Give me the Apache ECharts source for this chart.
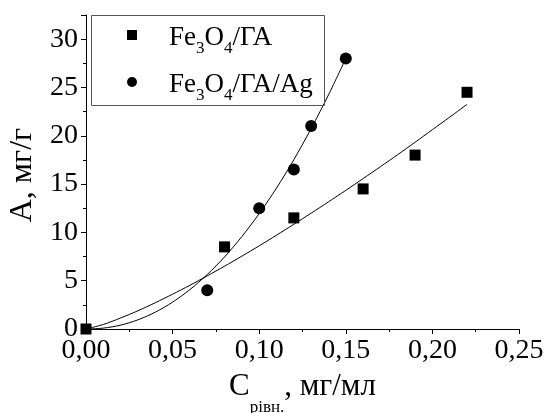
<!DOCTYPE html>
<html><head><meta charset="utf-8">
<script src="https://cdn.jsdelivr.net/npm/echarts@6/dist/echarts.min.js"></script>
<style>html,body{margin:0;padding:0;background:#fff}#c{width:549px;height:413px}</style>
</head><body><div id="c"></div>
<script>
const seriesNames = ['Fe3O4/ГА', 'Fe3O4/ГА/Ag'];
const squareX = [0, 0.08, 0.12, 0.16, 0.19, 0.22];
const squareY = [0, 8.5, 11.5, 14.5, 18.0, 24.5];
const circleX = [0.07, 0.10, 0.12, 0.13, 0.15];
const circleY = [4.0, 12.5, 16.5, 21.0, 28.0];
const fitX1 = [0, 0.01, 0.02, 0.03, 0.04, 0.05, 0.06, 0.07, 0.08, 0.09, 0.10, 0.11, 0.12, 0.13, 0.14, 0.15, 0.16, 0.17, 0.18, 0.19, 0.20, 0.21, 0.22];
const fitY1 = [0, 0.47, 1.14, 1.89, 2.72, 3.60, 4.53, 5.50, 6.50, 7.54, 8.61, 9.71, 10.84, 11.99, 13.16, 14.35, 15.57, 16.80, 18.05, 19.33, 20.63, 21.93, 23.25];
const fitX2 = [0, 0.01, 0.02, 0.03, 0.04, 0.05, 0.06, 0.07, 0.08, 0.09, 0.10, 0.11, 0.12, 0.13, 0.14, 0.15];
const fitY2 = [0, 0.09, 0.40, 0.95, 1.74, 2.78, 4.08, 5.64, 7.46, 9.57, 11.94, 14.59, 17.52, 20.75, 24.23, 28.0];
const xTickValues = [0, 0.05, 0.10, 0.15, 0.20, 0.25];
const xTickLabels = ['0,00', '0,05', '0,10', '0,15', '0,20', '0,25'];
const yTickValues = [0, 5, 10, 15, 20, 25, 30];
const yTickLabels = ['0', '5', '10', '15', '20', '25', '30'];

const FF = '"Liberation Serif", "Times New Roman", serif';
const zip = (a, b) => a.map((v, i) => [v, b[i]]);
const lookup = (vals, labels) => v => {
  const i = vals.findIndex(t => Math.abs(t - v) < 1e-9);
  return i >= 0 ? labels[i] : '';
};
const subFmt = name => name.split(/(\d)/).filter(Boolean)
  .map(p => /\d/.test(p) ? '{s|' + p + '}' : '{n|' + p + '}').join('');

const legendCommon = {
  orient: 'vertical', left: 127, padding: 0,
  itemWidth: 64, itemHeight: 10, itemGap: 0,
  itemStyle: {opacity: 1},
  formatter: subFmt,
  textStyle: {
    fontFamily: FF, fontSize: 27, color: '#000',
    rich: {
      n: {fontFamily: FF, fontSize: 27, color: '#000', lineHeight: 52, height: 46, verticalAlign: 'bottom'},
      s: {fontFamily: FF, fontSize: 17, color: '#000', lineHeight: 11, padding: [31, 0, 0, 0], verticalAlign: 'top'}
    }
  }
};

const chart = echarts.init(document.getElementById('c'), null, {renderer: 'canvas'});
chart.setOption({
  animation: false,
  backgroundColor: '#fff',
  grid: {left: 86, right: 30, top: 15, bottom: 84, containLabel: false, outerBoundsMode: 'none'},
  legend: [
    Object.assign({}, legendCommon, {top: 9, data: [{name: seriesNames[0], icon: 'path://M0,0L10,0L10,10L0,10Z'}]}),
    Object.assign({}, legendCommon, {top: 56, data: [{name: seriesNames[1], icon: 'circle'}]})
  ],
  graphic: [{
    type: 'rect', silent: true, z: 10,
    shape: {x: 91.5, y: 15.5, width: 233, height: 90},
    style: {fill: 'none', stroke: '#555', lineWidth: 1}
  }],
  xAxis: {
    type: 'value', min: 0, max: 0.25, interval: 0.05,
    splitLine: {show: false},
    axisLine: {lineStyle: {color: '#000', width: 1}},
    axisTick: {inside: false, length: 5, lineStyle: {color: '#000'}},
    minorTick: {show: true, splitNumber: 2, length: 3, lineStyle: {color: '#000'}},
    axisLabel: {fontFamily: FF, fontSize: 28, color: '#000', lineHeight: 30, margin: 7,
      formatter: lookup(xTickValues, xTickLabels)},
    name: '{n|С}{s|рівн.}{n|, мг/мл}',
    nameLocation: 'middle', nameGap: 35,
    nameTextStyle: {
      fontFamily: FF, fontSize: 31, color: '#000',
      rich: {
        n: {fontFamily: FF, fontSize: 31, color: '#000', lineHeight: 34, verticalAlign: 'top'},
        s: {fontFamily: FF, fontSize: 17, color: '#000', lineHeight: 11, padding: [28, 0, 0, 0], verticalAlign: 'top'}
      }
    }
  },
  yAxis: {
    type: 'value', min: 0, max: 32.5, interval: 5,
    splitLine: {show: false},
    axisLine: {lineStyle: {color: '#000', width: 1}},
    axisTick: {inside: false, length: 5, lineStyle: {color: '#000'}},
    minorTick: {show: true, splitNumber: 2, length: 3, lineStyle: {color: '#000'}},
    axisLabel: {fontFamily: FF, fontSize: 28, color: '#000', lineHeight: 30, margin: 8,
      showMaxLabel: false, formatter: lookup(yTickValues, yTickLabels)},
    name: 'А, мг/г',
    nameLocation: 'middle', nameGap: 45,
    nameTextStyle: {fontFamily: FF, fontSize: 32, color: '#000', lineHeight: 34, padding: [0, 6, 0, 0]}
  },
  series: [
    {name: seriesNames[0], type: 'scatter', symbol: 'rect', symbolSize: 11,
     itemStyle: {color: '#000', opacity: 1}, data: zip(squareX, squareY), z: 3},
    {name: seriesNames[1], type: 'scatter', symbol: 'circle', symbolSize: 12,
     itemStyle: {color: '#000', opacity: 1}, data: zip(circleX, circleY), z: 3},
    {name: 'fit1', type: 'line', smooth: 0.3, showSymbol: false, symbol: 'none', silent: true,
     lineStyle: {color: '#000', width: 1}, data: zip(fitX1, fitY1), z: 2},
    {name: 'fit2', type: 'line', smooth: 0.3, showSymbol: false, symbol: 'none', silent: true,
     lineStyle: {color: '#000', width: 1}, data: zip(fitX2, fitY2), z: 2}
  ]
});
</script>
</body></html>
